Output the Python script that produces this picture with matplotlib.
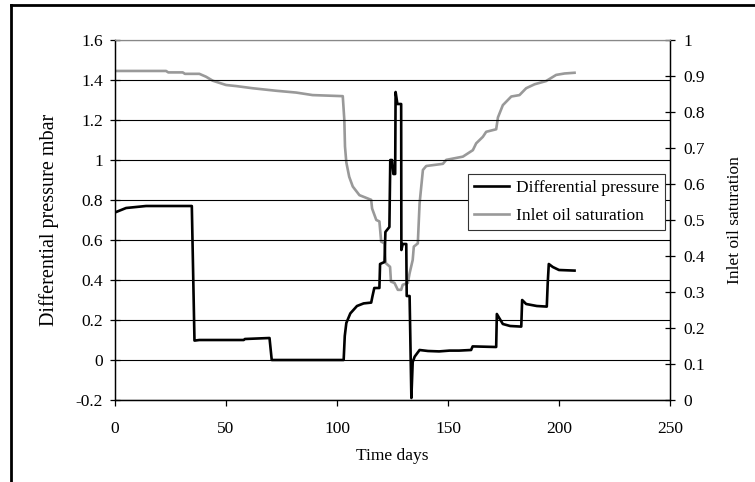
import numpy as np
import matplotlib
matplotlib.use("Agg")
import matplotlib.pyplot as plt
from matplotlib.lines import Line2D

plt.rcParams['font.family'] = ['Liberation Serif', 'DejaVu Serif']
plt.rcParams['font.size'] = 12.5

# differential pressure (mbar) vs time (days)
dp_days = [0.5, 5, 14, 34.6, 35.8, 38, 58, 58.5, 69.6, 70.6, 103, 103.5, 104.2,
           106, 109, 112, 115.4, 116, 116.8, 119.1, 119.4, 121.4, 121.8, 123.6,
           124, 124.8, 125.4, 126.2, 126.4, 127.2, 128.9, 129, 129.6, 131.2,
           131.4, 132.7, 133.5, 134.1, 135, 137.2, 141, 146, 150.7, 155, 160.4,
           161.1, 171.7, 172, 174.7, 178, 183, 183.4, 185.2, 190, 194.5, 194.9,
           195.4, 197.2, 200, 207]
dp_vals = [0.74, 0.76, 0.77, 0.77, 0.097, 0.10, 0.10, 0.105, 0.11, 0.0, 0.0,
           0.12, 0.185, 0.233, 0.27, 0.283, 0.287, 0.32, 0.36, 0.36, 0.48,
           0.49, 0.64, 0.665, 1.0, 1.0, 0.93, 0.93, 1.34, 1.28, 1.28, 0.55,
           0.58, 0.58, 0.32, 0.32, -0.19, -0.01, 0.017, 0.05, 0.045, 0.043,
           0.047, 0.047, 0.05, 0.068, 0.065, 0.23, 0.18, 0.17, 0.167, 0.30,
           0.28, 0.27, 0.267, 0.38, 0.48, 0.465, 0.45, 0.447]

# inlet oil saturation (fraction) vs time (days)
so_days = [0.5, 23, 24, 30.5, 31.5, 38, 41, 44, 50, 54.6, 62, 72.6, 81.6, 89,
           102.6, 103.3, 103.6, 104.2, 105.5, 107.1, 110.1, 115.4, 115.8, 117.7,
           119.1, 119.9, 121.4, 122, 123.9, 124.3, 125.9, 127.4, 128.9, 129.6,
           131.9, 132.7, 134.1, 134.6, 136.4, 137.2, 138.7, 140.2, 147.7, 149.2,
           156.7, 161.2, 162.7, 165.7, 167.2, 171.7, 172.5, 174.7, 178.5, 182.2,
           185.2, 189, 194.2, 198.7, 202.5, 207]
so_vals = [0.914, 0.914, 0.910, 0.910, 0.906, 0.906, 0.898, 0.887, 0.875, 0.872,
           0.866, 0.859, 0.854, 0.847, 0.844, 0.778, 0.704, 0.66, 0.62, 0.593,
           0.569, 0.556, 0.532, 0.50, 0.496, 0.44, 0.435, 0.38, 0.37, 0.329,
           0.325, 0.306, 0.306, 0.32, 0.325, 0.352, 0.389, 0.426, 0.435, 0.546,
           0.639, 0.65, 0.656, 0.667, 0.676, 0.694, 0.713, 0.731, 0.745, 0.752,
           0.785, 0.819, 0.843, 0.847, 0.866, 0.877, 0.886, 0.903, 0.907, 0.909]

left_ticks = [-0.2, 0, 0.2, 0.4, 0.6, 0.8, 1, 1.2, 1.4, 1.6]
right_ticks = [0, 0.1, 0.2, 0.3, 0.4, 0.5, 0.6, 0.7, 0.8, 0.9, 1]
x_ticks = [0, 50, 100, 150, 200, 250]

fig = plt.figure(figsize=(7.55, 4.82), dpi=100)
ax1 = fig.add_axes([115 / 755, 1 - 400 / 482, 555 / 755, 360 / 482])
ax2 = ax1.twinx()

ax1.set_xlim(0, 250)
ax1.set_ylim(-0.2, 1.6)
ax2.set_ylim(0, 1)
ax1.set_xticks(x_ticks)
ax1.set_xticklabels([str(t) for t in x_ticks])
ax1.set_yticks(left_ticks)
ax1.set_yticklabels(['-0.2', '0', '0.2', '0.4', '0.6', '0.8', '1', '1.2', '1.4', '1.6'])
ax2.set_yticks(right_ticks)
ax2.set_yticklabels(['0', '0.1', '0.2', '0.3', '0.4', '0.5', '0.6', '0.7', '0.8', '0.9', '1'])

ax1.yaxis.grid(True, color='black', lw=0.8)
ax1.set_axisbelow(True)

l1, = ax1.plot(dp_days, dp_vals, color='black', lw=1.9, zorder=3,
               label='Differential pressure')
l2, = ax2.plot(so_days, so_vals, color='#999999', lw=1.9,
               label='Inlet oil saturation')
ax1.set_zorder(ax2.get_zorder() + 1)
ax1.patch.set_visible(False)

for ax in (ax1, ax2):
    ax.spines['top'].set_color('#888888')
    ax.spines['top'].set_linewidth(0.8)
    for s in ('left', 'right', 'bottom'):
        ax.spines[s].set_linewidth(0.9)
ax1.tick_params(axis='y', direction='inout', length=7, width=0.9, pad=5)
ax2.tick_params(axis='y', direction='inout', length=7, width=0.9, pad=6)
ax1.tick_params(axis='x', direction='out', length=4, width=0.9, pad=11)

ax1.set_xlabel('Time days', labelpad=8)
ax1.set_ylabel('Differential pressure mbar', labelpad=12, fontsize=14.5)
ax2.set_ylabel('Inlet oil saturation', labelpad=16)

leg = ax1.legend(handles=[l1, l2], loc='upper left',
                 bbox_to_anchor=(468 / 755, 1 - 174 / 482), bbox_transform=fig.transFigure,
                 frameon=True, fancybox=False, edgecolor='#333333', framealpha=1,
                 handlelength=2.0, borderpad=0.35, labelspacing=0.65, handletextpad=0.4,
                 borderaxespad=0)
leg.get_frame().set_linewidth(0.8)

# outer frame of the chart
fig.add_artist(Line2D([11 / 755, 11 / 755], [0, 1 - 5 / 482], color='black', lw=2))
fig.add_artist(Line2D([11 / 755, 1], [1 - 5 / 482, 1 - 5 / 482], color='black', lw=2))

fig.savefig('out.png', dpi=100)
